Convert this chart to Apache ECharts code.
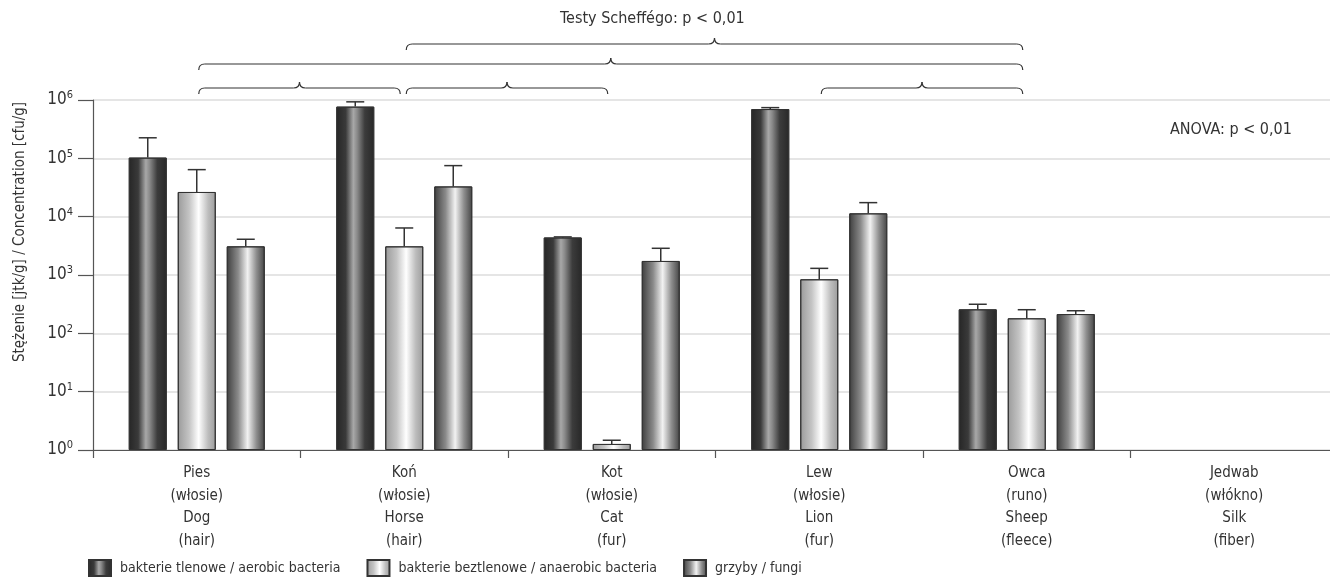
<!DOCTYPE html>
<html>
<head>
<meta charset="utf-8">
<script src="https://cdn.jsdelivr.net/npm/echarts@6/dist/echarts.min.js"></script>
<style>
  html, body { margin: 0; padding: 0; background: #fff; }
  #chart { width: 1330px; height: 579px; }
</style>
</head>
<body>
<div id="chart"></div>
<script>
// kategorie (oś X)
const categories = [
  'Pies\n(włosie)\nDog\n(hair)',
  'Koń\n(włosie)\nHorse\n(hair)',
  'Kot\n(włosie)\nCat\n(fur)',
  'Lew\n(włosie)\nLion\n(fur)',
  'Owca\n(runo)\nSheep\n(fleece)',
  'Jedwab\n(włókno)\nSilk\n(fiber)'
]
const seriesNames = [
  'bakterie tlenowe / aerobic bacteria',
  'bakterie beztlenowe / anaerobic bacteria',
  'grzyby / fungi'
]
// średnie i górne końce słupków błędu [jtk/g]
const aerobic      = [1.03e5, 7.7e5, 4.4e3, 7.0e5, 258, null]
const aerobicErr   = [2.25e5, 9.3e5, 4.5e3, 7.4e5, 315, null]
const anaerobic    = [2.65e4, 3.1e3, 1.27, 844, 181, null]
const anaerobicErr = [6.4e4, 6.4e3, 1.47, 1300, 254, null]
const fungi        = [3.1e3, 3.3e4, 1.74e3, 1.14e4, 214, null]
const fungiErr     = [4.1e3, 7.5e4, 2.87e3, 1.74e4, 244, null]
// klamry testów Scheffégo: [od kategorii, do kategorii, poziom]
const braces = [[1, 4, 0], [0, 4, 1], [0, 1, 2], [1, 2, 2], [3, 4, 2]]

const FONT = '"Liberation Sans Narrow", "DejaVu Sans Condensed", "Roboto Condensed", sans-serif'
const BAR_W = 38
const BAR_GAP = 11

function grad (stops) {
  return {
    type: 'linear', x: 0, y: 0, x2: 1, y2: 0,
    colorStops: stops.map(s => ({ offset: s[0], color: s[1] }))
  }
}
const colors = [
  grad([[0, '#262626'], [0.25, '#3a3a3a'], [0.45, '#a8a8a8'], [0.55, '#8a8a8a'], [0.75, '#3c3c3c'], [1, '#282828']]),
  grad([[0, '#9a9a9a'], [0.3, '#c4c4c4'], [0.55, '#ffffff'], [0.8, '#bdbdbd'], [1, '#9c9c9c']]),
  grad([[0, '#3e3e3e'], [0.3, '#8a8a8a'], [0.55, '#f2f2f2'], [0.78, '#8e8e8e'], [1, '#444444']])
]

const values = [aerobic, anaerobic, fungi]
const errs = [aerobicErr, anaerobicErr, fungiErr]

// dane słupków błędu: [kategoria, wartość, górny koniec, nr serii]
const errData = []
values.forEach((arr, s) => {
  arr.forEach((v, i) => {
    if (v != null) errData.push([i, v, errs[s][i], s])
  })
})

const chart = echarts.init(document.getElementById('chart'))

const barSeries = values.map((arr, s) => ({
  name: seriesNames[s],
  type: 'bar',
  data: arr,
  barWidth: BAR_W,
  barGap: (BAR_GAP / BAR_W * 100) + '%',
  itemStyle: {
    color: colors[s],
    borderColor: '#333',
    borderWidth: 1
  },
  emphasis: { disabled: true }
}))

const option = {
  animation: false,
  textStyle: { fontFamily: FONT },
  grid: { left: 93, width: 1245, top: 100, bottom: 129, outerBoundsMode: 'none' },
  legend: {
    data: seriesNames,
    left: 88,
    top: 559,
    padding: 0,
    itemWidth: 22,
    itemHeight: 16,
    itemGap: 26,
    icon: 'rect',
    textStyle: { fontFamily: FONT, fontSize: 14, color: '#333', padding: [0, 0, 0, 4] }
  },
  xAxis: {
    type: 'category',
    data: categories,
    axisLine: { lineStyle: { color: '#555', width: 1.2 } },
    axisTick: { show: true, length: 8, lineStyle: { color: '#555', width: 1.2 } },
    axisLabel: {
      fontFamily: FONT, fontSize: 15, color: '#333', lineHeight: 22.5, margin: 12,
      interval: 0
    }
  },
  yAxis: {
    type: 'log',
    logBase: 10,
    min: 1,
    max: 1e6,
    axisLine: { show: true, lineStyle: { color: '#555', width: 1.2 } },
    axisTick: { show: true, length: 15, lineStyle: { color: '#555', width: 1.2 } },
    splitLine: { lineStyle: { color: '#dcdcdc', width: 1.5 } },
    axisLabel: {
      margin: 20,
      formatter: v => '{a|10}{b|' + Math.round(Math.log10(v)) + '}',
      rich: {
        a: { fontFamily: FONT, fontSize: 17, color: '#333', lineHeight: 20 },
        b: { fontFamily: FONT, fontSize: 11, color: '#333', verticalAlign: 'top', lineHeight: 12 }
      }
    }
  },
  series: barSeries.concat([{
    type: 'custom',
    name: 'err',
    data: errData,
    z: 3,
    encode: { x: 0, y: 1 },
    renderItem: (params, api) => {
      const ci = api.value(0)
      const s = api.value(3)
      const base = api.coord([ci, api.value(1)])
      const top = api.coord([ci, api.value(2)])
      const x = base[0] + (s - 1) * (BAR_W + BAR_GAP)
      const st = { stroke: '#333', lineWidth: 1.5 }
      return {
        type: 'group',
        children: [
          { type: 'line', shape: { x1: x, y1: base[1], x2: x, y2: top[1] }, style: st },
          { type: 'line', shape: { x1: x - 9, y1: top[1], x2: x + 9, y2: top[1] }, style: st }
        ]
      }
    }
  }])
}

chart.setOption(option)

// klamry i napisy nad wykresem
const rowY = [44, 64, 88]
const braceStyle = { fill: null, stroke: '#333', lineWidth: 1.2 }
function braceParts (x1, x2, y) {
  const m = (x1 + x2) / 2
  const r = 6
  return [
    { type: 'bezierCurve', shape: { x1: x1, y1: y + r, cpx1: x1, cpy1: y, x2: x1 + r, y2: y }, style: braceStyle },
    { type: 'line', shape: { x1: x1 + r, y1: y, x2: m - r, y2: y }, style: braceStyle },
    { type: 'bezierCurve', shape: { x1: m - r, y1: y, cpx1: m, cpy1: y, x2: m, y2: y - r }, style: braceStyle },
    { type: 'bezierCurve', shape: { x1: m, y1: y - r, cpx1: m, cpy1: y, x2: m + r, y2: y }, style: braceStyle },
    { type: 'line', shape: { x1: m + r, y1: y, x2: x2 - r, y2: y }, style: braceStyle },
    { type: 'bezierCurve', shape: { x1: x2 - r, y1: y, cpx1: x2, cpy1: y, x2: x2, y2: y + r }, style: braceStyle }
  ]
}
const graphics = braces.map(b => {
  const x1 = chart.convertToPixel({ xAxisIndex: 0 }, b[0]) + 2
  const x2 = chart.convertToPixel({ xAxisIndex: 0 }, b[1]) - 4
  return { type: 'group', children: braceParts(x1, x2, rowY[b[2]]) }
})
graphics.push({
  type: 'text',
  left: 560,
  top: 11,
  style: { text: 'Testy Scheffégo: p < 0,01', font: '16px ' + FONT, fill: '#333' }
})
graphics.push({
  type: 'text',
  left: 1170,
  top: 122,
  style: { text: 'ANOVA: p < 0,01', font: '16px ' + FONT, fill: '#333' }
})
graphics.push({
  type: 'text',
  x: 20,
  y: 232,
  rotation: Math.PI / 2,
  style: {
    text: 'Stężenie [jtk/g] / Concentration [cfu/g]',
    font: '15px ' + FONT, fill: '#333', align: 'center', verticalAlign: 'middle'
  }
})
chart.setOption({ graphic: graphics })
</script>
</body>
</html>
